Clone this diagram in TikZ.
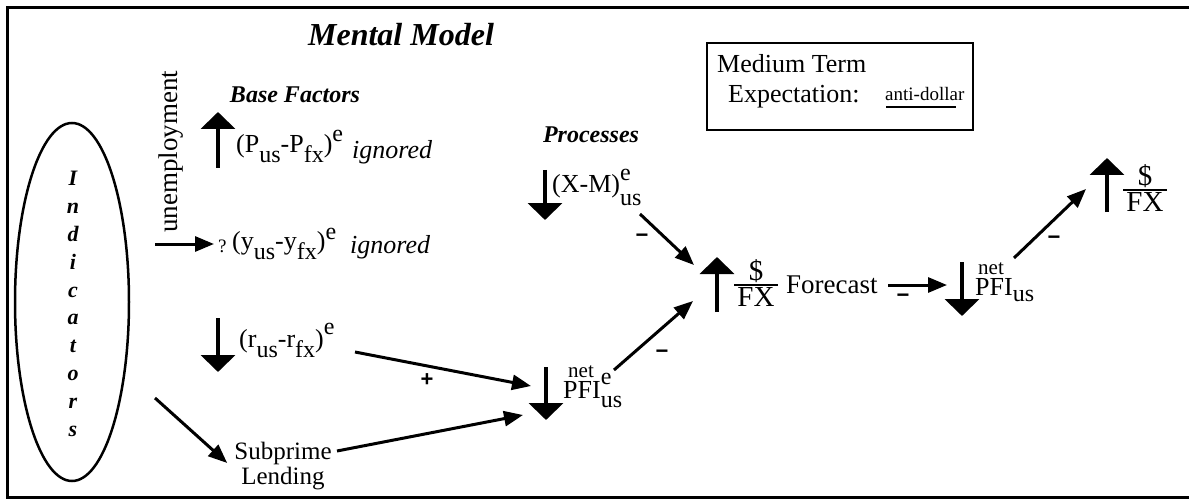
\documentclass[tikz,border=0pt]{standalone}
\usepackage{fontspec}
\setmainfont{Liberation Serif}
\newfontfamily\signfont{Liberation Sans}
\usetikzlibrary{arrows.meta,shapes.geometric}
\newcommand{\lo}[2][10pt]{\raisebox{-#1}{\fontsize{24}{24}\selectfont #2}}
\newcommand{\hi}[2][11pt]{\raisebox{#1}{\fontsize{24}{24}\selectfont #2}}
\newcommand{\dfx}{\shortstack[c]{\$\\[-2pt]\rule{44pt}{2pt}\\[-1pt]FX}}
\newcommand{\netup}[1][5pt]{\makebox[0pt][l]{\hspace{#1}\raisebox{21pt}{\fontsize{21}{21}\selectfont net}}}
\begin{document}
\begin{tikzpicture}[x=1pt,y=-1pt,
  ind/.style={line width=4pt,-{Triangle[length=17pt,width=34pt]}},
  conn/.style={line width=3pt,-{Triangle[length=19pt,width=15pt]}},
  txt/.style={inner sep=0pt,font=\fontsize{26}{30}\selectfont},
  bi/.style={inner sep=0pt,font=\fontsize{24}{28}\selectfont\bfseries\itshape},
  ign/.style={inner sep=0pt,font=\fontsize{26}{30}\selectfont\itshape},
  sgn/.style={inner sep=0pt,font=\fontsize{22}{26}\signfont\bfseries},
  frc/.style={inner sep=0pt,font=\fontsize{29}{30}\selectfont},
]
\useasboundingbox (0,0) rectangle (1189,500);
% frame
\coordinate (fTR) at (1189,8); \coordinate (fTL) at (7,8);
\coordinate (fBL) at (7,497); \coordinate (fBR) at (1189,497);
\draw[line width=3pt] (fTR) -- (fTL) -- (fBL) -- (fBR);

\node[inner sep=0pt,font=\fontsize{32}{36}\selectfont\bfseries\itshape] (title) at (401,35) {Mental Model};

% indicators
\node[draw,ellipse,line width=2.5pt,minimum width=114pt,minimum height=358pt,inner sep=0pt] (ell) at (72,302) {};
\node[align=center,inner sep=0pt,font=\fontsize{22}{27.8}\selectfont\bfseries\itshape] (indtxt) at (73,304) {I\\n\\d\\i\\c\\a\\t\\o\\r\\s};
\node[txt,rotate=90,font=\fontsize{27}{30}\selectfont] (unemp) at (171,152) {unemployment};

% base factors
\node[bi] (base) at (295,95) {Base Factors};
\coordinate (u1a) at (218,168); \coordinate (u1b) at (218,112);
\draw[ind] (u1a) -- (u1b);
\node[txt,anchor=base west] (pp) at (236,153) {(P\lo{us}-P\lo{fx})\hi{e}};
\node[ign,anchor=base west] (ig1) at (352,158) {ignored};

\coordinate (ue) at (155,244);
\node[txt,anchor=base west,font=\fontsize{19}{20}\selectfont] (q) at (218,252) {?};
\node[txt,anchor=base west] (yy) at (232,249) {(y\lo{us}-y\lo{fx})\hi[10pt]{e}};
\node[ign,anchor=base west] (ig2) at (350,253) {ignored};
\draw[conn] (ue) -- ([xshift=-4pt]ue -| q.west);

\coordinate (d1a) at (218,318); \coordinate (d1b) at (218,372);
\draw[ind] (d1a) -- (d1b);
\node[txt,anchor=base west] (rr) at (239,347) {(r\lo{us}-r\lo{fx})\hi[13pt]{e}};

\node[txt,align=center,font=\fontsize{25}{25}\selectfont] (sub) at (283,466) {Subprime\\Lending};

% processes
\node[bi] (proc) at (591,135) {Processes};
\coordinate (d2a) at (545,170); \coordinate (d2b) at (545,220);
\draw[ind] (d2a) -- (d2b);
\node[txt,anchor=base west] (xm) at (552,193) {(X-M)\makebox[0pt][l]{\hi[13pt]{e}}\lo[13pt]{us}};

\coordinate (d3a) at (546,367); \coordinate (d3b) at (546,420);
\draw[ind] (d3a) -- (d3b);
\node[txt,anchor=base west] (pfie) at (563,398) {\netup PFI\makebox[0pt][l]{\hi[14pt]{e}}\lo[9pt]{us}};

% forecast
\coordinate (u2a) at (717,312); \coordinate (u2b) at (717,257);
\draw[ind] (u2a) -- (u2b);
\node[frc] (fx1) at (756,283) {\dfx};
\node[txt,anchor=base west,font=\fontsize{27}{30}\selectfont] (fc) at (786,293) {Forecast};

\coordinate (d4a) at (962,262); \coordinate (d4b) at (962,316);
\draw[ind] (d4a) -- (d4b);
\node[txt,anchor=base west] (pfi) at (975,295) {\netup[3pt]PFI\lo[6pt]{us}};

\coordinate (u3a) at (1107,212); \coordinate (u3b) at (1107,158);
\draw[ind] (u3a) -- (u3b);
\node[frc] (fx2) at (1145,188) {\dfx};

% box
\node[draw,line width=2.5pt,minimum width=266pt,minimum height=87pt,inner sep=0pt] (box) at (840,86.5) {};
\node[txt,anchor=base west] (med) at (717,73) {Medium Term};
\node[txt,anchor=base west] (exp) at (728,103) {Expectation:};
\node[txt,anchor=base west,font=\fontsize{19}{24}\selectfont] (anti) at (885,101) {anti-dollar};
\coordinate (ul1) at (886,107); \coordinate (ul2) at (956,107);
\draw[line width=2pt] (ul1) -- (ul2);

% connectors
\coordinate (ella) at (155,398);
\draw[conn] (ella) -- ([xshift=-7pt,yshift=3pt]sub.west);
\coordinate (rout) at (355,352); \coordinate (pin1) at (531,386);
\draw[conn] (rout) -- (pin1);
\coordinate (sout) at (337,451); \coordinate (pin2) at (523,415);
\draw[conn] (sout) -- (pin2);
\coordinate (xout) at (640,214); \coordinate (fin1) at (694,265);
\draw[conn] (xout) -- (fin1);
\coordinate (pout) at (614,370); \coordinate (fin2) at (693,301);
\draw[conn] (pout) -- (fin2);
\coordinate (fout) at (888,285); \coordinate (qin) at (947,285);
\draw[conn] (fout) -- (qin);
\coordinate (qout) at (1014,258); \coordinate (xin) at (1086,189);
\draw[conn] (qout) -- (xin);

% signs
\node[sgn] (plus) at (427,380) {+};
\node[sgn] (m1) at (642,238) {−};
\node[sgn] (m2) at (662,354) {−};
\node[sgn] (m3) at (903,298) {−};
\node[sgn] (m4) at (1054,240) {−};
\end{tikzpicture}
\end{document}
